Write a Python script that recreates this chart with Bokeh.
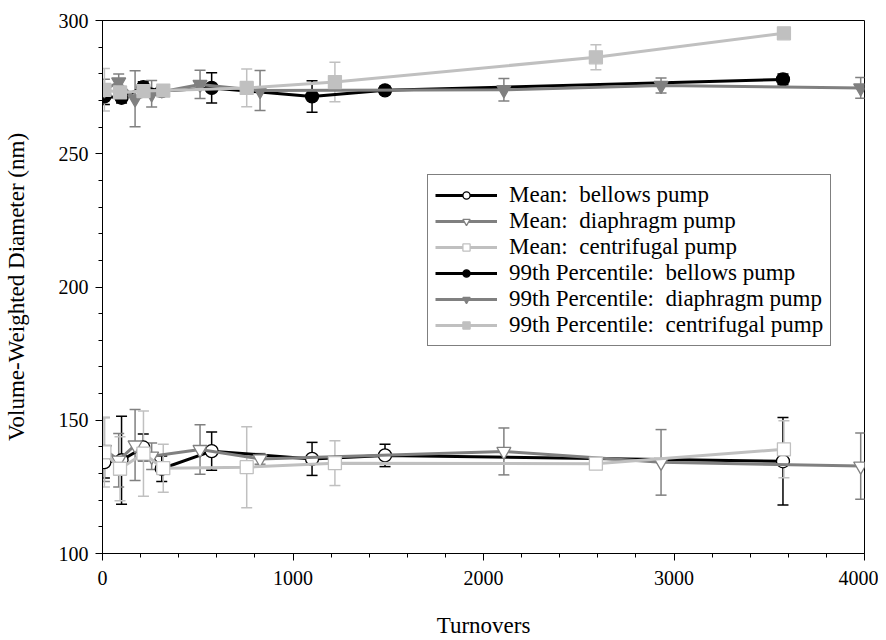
from bokeh.plotting import figure
from bokeh.models import Range1d, Legend, LegendItem, Whisker, ColumnDataSource, TeeHead, FixedTicker
from bokeh.embed import file_html
from bokeh.resources import INLINE

# ---- data ----
turn_bel = [10, 100, 214, 311, 573, 1100, 1483, 3572]
turn_dia = [10, 85, 171, 258, 512, 827, 2107, 2932, 3980]
turn_cen = [10, 92, 215, 319, 757, 1220, 2590, 3577]

mean_bel = [134.3, 135.0, 139.8, 131.8, 138.4, 135.5, 136.8, 134.6]
err_mean_bel = [6.0, 16.5, 5.0, 4.8, 7.2, 6.2, 4.2, 16.4]
mean_dia = [139.0, 135.0, 140.7, 136.5, 139.0, 135.5, 138.3, 134.2, 132.8]
err_mean_dia = [12.0, 10.0, 13.3, 5.0, 9.3, 2.0, 8.8, 12.3, 12.4]
mean_cen = [138.0, 131.8, 137.5, 132.0, 132.4, 133.9, 133.7, 139.1]
err_mean_cen = [13.0, 12.0, 16.0, 9.0, 15.2, 8.4, 2.0, 10.7]

p99_bel = [271.5, 271.0, 275.0, 273.5, 274.7, 271.5, 273.8, 277.9]
err_p99_bel = [3.0, 2.0, 2.0, 1.5, 5.7, 5.9, 1.5, 2.0]
p99_dia = [274.0, 276.9, 270.6, 272.5, 276.0, 273.7, 274.0, 275.6, 274.7]
err_p99_dia = [4.0, 3.0, 10.5, 5.0, 5.3, 7.5, 4.2, 2.8, 3.9]
p99_cen = [274.0, 273.0, 273.5, 273.7, 274.7, 276.9, 286.2, 295.2]
err_p99_cen = [8.0, 2.0, 2.0, 1.5, 7.1, 7.4, 4.7, 1.0]

labels = ["Mean:  bellows pump", "Mean:  diaphragm pump", "Mean:  centrifugal pump",
          "99th Percentile:  bellows pump", "99th Percentile:  diaphragm pump",
          "99th Percentile:  centrifugal pump"]

BLACK, GRAY, LIGHT = "#000000", "#808080", "#c0c0c0"
FONT = "Liberation Serif"

p = figure(frame_width=762, frame_height=533, output_backend="svg", toolbar_location=None,
           x_range=Range1d(0, 4000), y_range=Range1d(100, 300),
           min_border_left=102, min_border_right=14, min_border_top=20, min_border_bottom=79)
p.xgrid.visible = False
p.ygrid.visible = False
p.outline_line_color = "black"
p.outline_line_width = 1
p.background_fill_color = "white"
p.border_fill_color = "white"

for ax in (p.xaxis[0], p.yaxis[0]):
    ax.axis_line_color = "black"
    ax.major_tick_in = 0
    ax.major_tick_out = 7
    ax.minor_tick_in = 0
    ax.minor_tick_out = 4
    ax.major_label_text_font = FONT
    ax.major_label_text_font_size = "20px"
    ax.major_label_text_color = "black"
    ax.axis_label_text_font = FONT
    ax.axis_label_text_font_size = "23px"
    ax.axis_label_text_font_style = "normal"
    ax.axis_label_text_color = "black"

p.xaxis.ticker = FixedTicker(ticks=[0, 1000, 2000, 3000, 4000],
                             minor_ticks=list(range(0, 4001, 200)))
p.yaxis.ticker = FixedTicker(ticks=[100, 150, 200, 250, 300],
                             minor_ticks=list(range(100, 301, 10)))
p.xaxis.axis_label = "Turnovers"
p.yaxis.axis_label = "Volume-Weighted Diameter (nm)"
p.xaxis.major_label_standoff = 10
p.yaxis.major_label_standoff = 7
p.xaxis.axis_label_standoff = 25
p.yaxis.axis_label_standoff = 27

series = [
    (turn_bel, mean_bel, err_mean_bel, BLACK, "circle", "white"),
    (turn_dia, mean_dia, err_mean_dia, GRAY, "inverted_triangle", "white"),
    (turn_cen, mean_cen, err_mean_cen, LIGHT, "square", "white"),
    (turn_bel, p99_bel, err_p99_bel, BLACK, "circle", None),
    (turn_dia, p99_dia, err_p99_dia, GRAY, "inverted_triangle", None),
    (turn_cen, p99_cen, err_p99_cen, LIGHT, "square", None),
]

items = []
for (xs, ys, es, col, mk, fill), lab in zip(series, labels):
    src = ColumnDataSource(dict(x=xs, y=ys,
                                upper=[y + e for y, e in zip(ys, es)],
                                lower=[y - e for y, e in zip(ys, es)]))
    w = Whisker(source=src, base="x", upper="upper", lower="lower", dimension="height",
                line_color=col, line_width=1.5,
                upper_head=TeeHead(size=11, line_color=col, line_width=1.5),
                lower_head=TeeHead(size=11, line_color=col, line_width=1.5))
    p.add_layout(w)
    r_line = p.line("x", "y", source=src, line_color=col, line_width=3)
    size = 13 if mk != "inverted_triangle" else 14
    r_mk = p.scatter("x", "y", source=src, marker=mk, size=size, line_color=col,
                     line_width=1.3, fill_color=fill if fill else col)
    items.append(LegendItem(label=lab, renderers=[r_line, r_mk]))

legend = Legend(items=items, location=(325, 207))
legend.label_text_font = FONT
legend.label_text_font_size = "23px"
legend.label_text_color = "black"
legend.glyph_width = 62
legend.glyph_height = 18
legend.label_height = 18
legend.spacing = 0
legend.padding = 7
legend.margin = 0
legend.label_standoff = 12
legend.border_line_color = "black"
legend.border_line_width = 1
legend.background_fill_alpha = 1
legend.background_fill_color = "white"
p.add_layout(legend)

open("out.html", "w").write(file_html(p, INLINE))
